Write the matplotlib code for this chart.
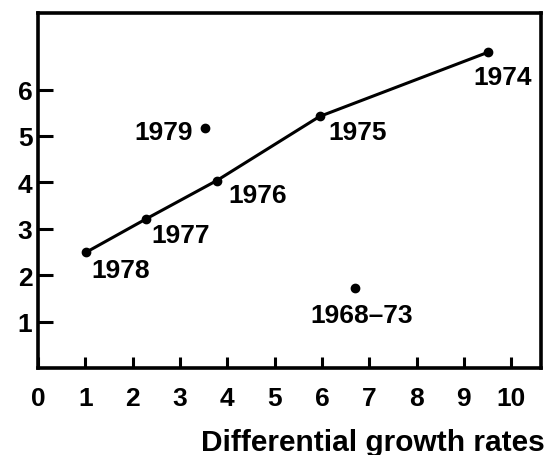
import matplotlib
matplotlib.use("Agg")
import matplotlib.pyplot as plt

plt.rcParams["font.family"] = ["Liberation Sans", "DejaVu Sans"]
plt.rcParams["font.weight"] = "bold"

# Connected series, 1974-1978
line_years = ["1978", "1977", "1976", "1975", "1974"]
line_x = [1.01, 2.28, 3.78, 5.95, 9.50]
line_y = [2.49, 3.21, 4.04, 5.42, 6.80]

# Stand-alone points
single_labels = ["1979", "1968\u201373"]
single_x = [3.53, 6.69]
single_y = [5.17, 1.72]

x_ticks = list(range(0, 11))
y_ticks = list(range(1, 7))

# label offsets in points (dx, dy, ha)
offsets = {
    "1978": (4.3, -17.8, "left"),
    "1977": (4.1, -16.6, "left"),
    "1976": (8.1, -15.3, "left"),
    "1975": (6.3, -16.3, "left"),
    "1974": (-10.3, -22.8, "left"),
    "1979": (-8.6, -7.7, "right"),
    "1968\u201373": (4.8, -24.5, "center"),
}

fig = plt.figure(figsize=(5.47, 4.56), dpi=100)
ax = fig.add_axes([38 / 547, 1 - 369 / 456, (541 - 38) / 547, (369 - 14) / 456])

ax.plot(line_x, line_y, color="black", linewidth=2.2, marker="o", markersize=6)
ax.plot(single_x, single_y, "o", color="black", markersize=6, linestyle="none")

for lab, x, y in zip(line_years + single_labels, line_x + single_x, line_y + single_y):
    dx, dy, ha = offsets[lab]
    ax.annotate(lab, (x, y), xytext=(dx, dy), textcoords="offset points",
                ha=ha, va="baseline", fontsize=19, fontweight="bold")

ax.set_xlim(0, 10.63)
ax.set_ylim(0, 7.65)
ax.set_xticks(x_ticks)
ax.set_xticklabels([str(t) for t in x_ticks])
ax.set_yticks(y_ticks)
ax.set_yticklabels([str(t) for t in y_ticks])

ax.tick_params(axis="x", direction="in", length=8, width=2.2, pad=13, labelsize=19)
ax.tick_params(axis="y", direction="in", length=11, width=2.2, pad=4, labelsize=19)
for s in ax.spines.values():
    s.set_linewidth(2.6)

ax.set_xlabel("Differential growth rates", loc="right", fontsize=21.5,
              fontweight="bold", labelpad=13)
ax.xaxis.label.set_x(1.008)

fig.savefig("out.png", dpi=100)
